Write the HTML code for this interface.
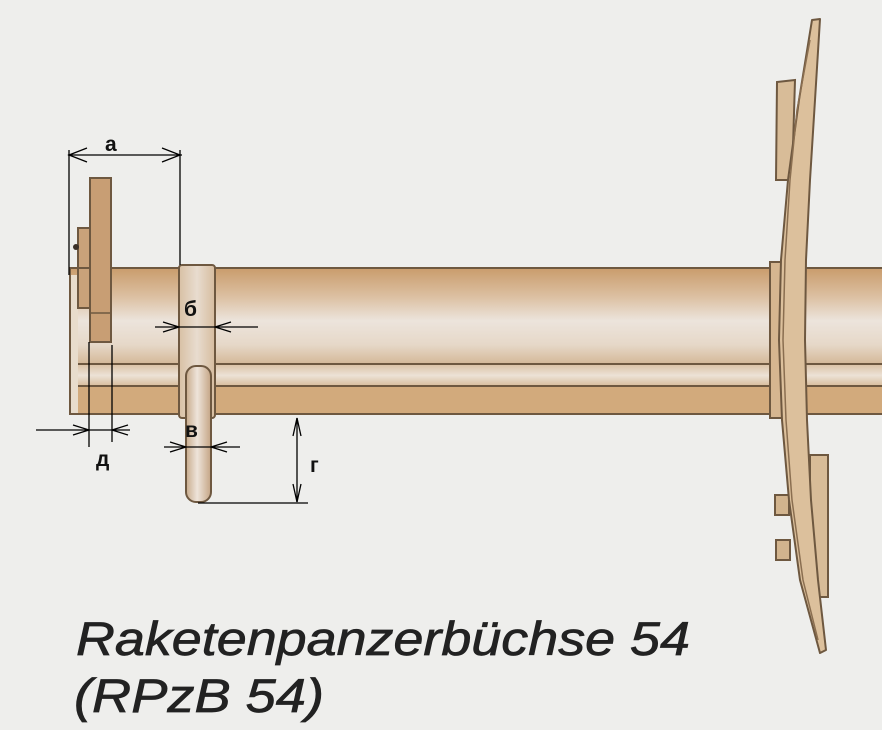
<!DOCTYPE html>
<html><head><meta charset="utf-8"><style>
html,body{margin:0;padding:0;background:#eeeeec;}
svg{display:block;}
</style></head><body>
<svg width="882" height="730" viewBox="0 0 882 730" xmlns="http://www.w3.org/2000/svg">
<defs>
<linearGradient id="tube" x1="0" y1="268" x2="0" y2="364" gradientUnits="userSpaceOnUse">
<stop offset="0" stop-color="#c99c6c"/>
<stop offset="0.3" stop-color="#dcc0a2"/>
<stop offset="0.55" stop-color="#ece4dc"/>
<stop offset="0.8" stop-color="#e6d8c8"/>
<stop offset="1" stop-color="#d4b898"/>
</linearGradient>
<linearGradient id="band" x1="0" y1="365" x2="0" y2="386" gradientUnits="userSpaceOnUse">
<stop offset="0" stop-color="#dcc4a8"/><stop offset="0.5" stop-color="#ece2d6"/><stop offset="1" stop-color="#d8bc9c"/>
</linearGradient>
<linearGradient id="pin" x1="186" y1="0" x2="211" y2="0" gradientUnits="userSpaceOnUse">
<stop offset="0" stop-color="#c8ab8c"/><stop offset="0.45" stop-color="#eee4da"/><stop offset="1" stop-color="#c4a484"/>
</linearGradient>
<linearGradient id="collar" x1="179" y1="0" x2="215" y2="0" gradientUnits="userSpaceOnUse">
<stop offset="0" stop-color="#d8c0a4"/><stop offset="0.5" stop-color="#e8dccf"/><stop offset="1" stop-color="#d6bc9e"/>
</linearGradient>
</defs>
<rect width="882" height="730" fill="#eeeeec"/>

<!-- tube -->
<g stroke="#6e5840" stroke-width="2">
<rect x="70" y="268" width="820" height="96" fill="url(#tube)"/>
<rect x="70" y="364" width="820" height="22" fill="url(#band)"/>
<rect x="70" y="386" width="820" height="28" fill="#d2aa7c"/>
</g>
<rect x="71" y="275" width="7" height="138" fill="#e8dccc"/>

<!-- left end pieces -->
<rect x="78" y="228" width="12" height="80" fill="#c9a27a" stroke="#6e5840" stroke-width="2"/>
<line x1="78" y1="268" x2="90" y2="268" stroke="#6e5840" stroke-width="2"/>
<rect x="90" y="178" width="21" height="164" fill="#c89e74" stroke="#6e5840" stroke-width="2"/>
<line x1="90" y1="313" x2="111" y2="313" stroke="#6e5840" stroke-width="1.5"/>
<circle cx="76" cy="247" r="3" fill="#3a3028"/>

<!-- collar and pin -->
<rect x="179" y="265" width="36" height="153" rx="3" fill="url(#collar)" stroke="#6e5840" stroke-width="2"/>
<rect x="186" y="366" width="25" height="136" rx="10" fill="url(#pin)" stroke="#6e5840" stroke-width="2"/>

<!-- shield ring -->
<rect x="770" y="262" width="12" height="156" fill="#d6b690" stroke="#6e5840" stroke-width="2"/>
<!-- shield plates -->
<polygon points="777,82 795,80 792,180 776,180" fill="#d8bc98" stroke="#6e5840" stroke-width="2"/>
<rect x="810" y="455" width="18" height="142" fill="#d8bc98" stroke="#6e5840" stroke-width="2"/>
<rect x="775" y="495" width="14" height="20" fill="#d2b48e" stroke="#6e5840" stroke-width="2"/>
<rect x="776" y="540" width="14" height="20" fill="#d2b48e" stroke="#6e5840" stroke-width="2"/>
<!-- shield -->
<polygon points="812,20 820,19 815,100 810,180 806,260 805,340 807,420 811,500 818,580 826,650 820,653 800,580 789,500 782,420 779,340 781,260 788,180 799,100" fill="#dcc09c" stroke="#6e5840" stroke-width="2" stroke-linejoin="round"/>
<polyline points="810,40 797,110 790,180 785,260 783,340 786,420 792,500 803,580 818,640" fill="none" stroke="#8a6e50" stroke-width="1.5"/>

<!-- dimension lines -->
<g stroke="#000" stroke-width="1.3" fill="none">
<line x1="69" y1="150" x2="69" y2="275"/>
<line x1="180" y1="150" x2="180" y2="265"/>
<line x1="68" y1="155" x2="182" y2="155"/>
<path d="M87,148 L69,155 L87,162"/><path d="M162,148 L180,155 L162,162"/>
<line x1="155" y1="327" x2="258" y2="327"/>
<path d="M163,322 L179,327 L163,332"/><path d="M231,322 L215,327 L231,332"/>
<line x1="89" y1="342" x2="89" y2="447"/>
<line x1="112" y1="345" x2="112" y2="442"/>
<line x1="36" y1="430" x2="130" y2="430"/>
<path d="M73,425 L89,430 L73,435"/><path d="M128,425 L112,430 L128,435"/>
<line x1="164" y1="447" x2="240" y2="447"/>
<path d="M170,442 L186,447 L170,452"/><path d="M227,442 L211,447 L227,452"/>
<line x1="297" y1="418" x2="297" y2="502"/>
<line x1="198" y1="503" x2="308" y2="503"/>
<path d="M293,436 L297,418 L301,436"/><path d="M293,484 L297,502 L301,484"/>
</g>

<g font-family="Liberation Sans, sans-serif" font-weight="bold" font-size="21" fill="#111">
<text x="105" y="151">а</text>
<text x="184" y="316">б</text>
<text x="185" y="437">в</text>
<text x="96" y="466">д</text>
<text x="310" y="472">г</text>
</g>

<g font-family="Liberation Sans, sans-serif" font-style="italic" font-size="47" fill="#222" stroke="#222" stroke-width="0.7">
<text x="76" y="655" textLength="614" lengthAdjust="spacingAndGlyphs">Raketenpanzerbüchse 54</text>
<text x="74" y="712" textLength="250" lengthAdjust="spacingAndGlyphs">(RPzB 54)</text>
</g>
</svg>
</body></html>
